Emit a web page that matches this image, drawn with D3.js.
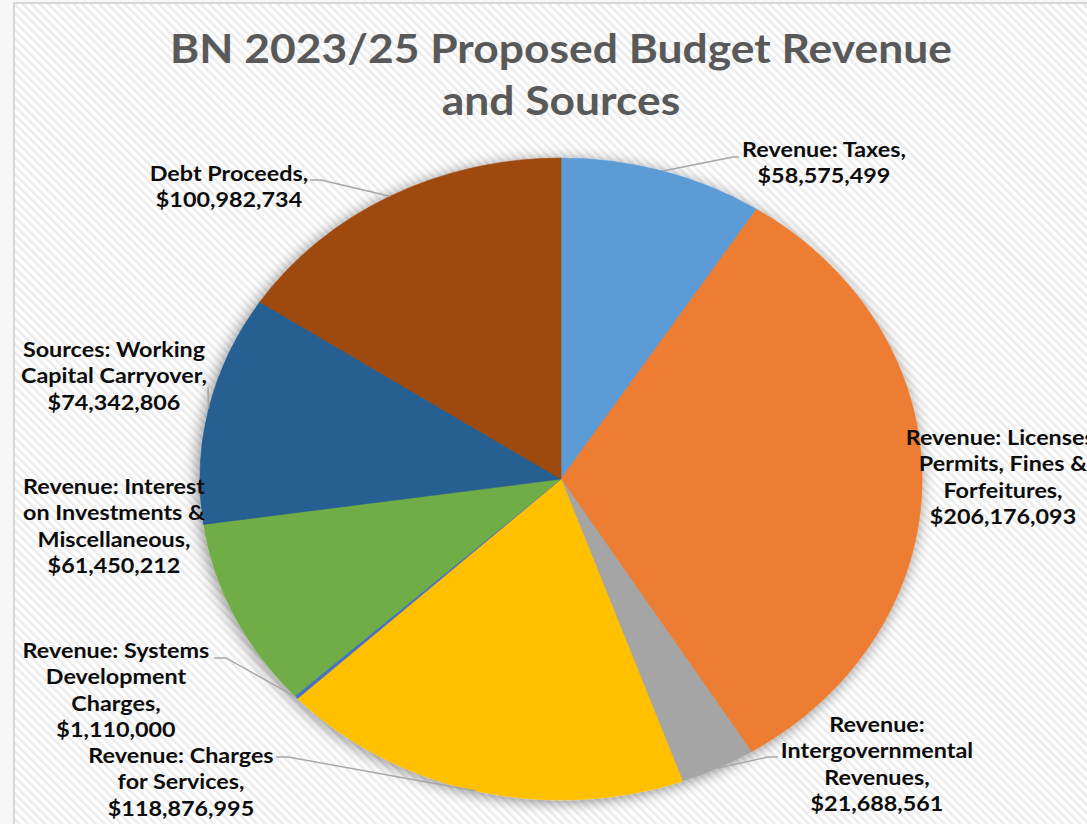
<!DOCTYPE html>
<html>
<head>
<meta charset="utf-8">
<script src="https://cdn.jsdelivr.net/npm/d3@7"></script>
<style>
  html, body { margin: 0; padding: 0; background: #f7f7f7; overflow: hidden; }
  text { font-family: Lato, "Open Sans", "Noto Sans", sans-serif; font-weight: 700; }
</style>
</head>
<body>
<svg id="chart" width="1087" height="824"></svg>
<script>
// Budget categories, in clockwise order starting at 12 o'clock
const categories = [
  "Revenue: Taxes",
  "Revenue: Licenses, Permits, Fines & Forfeitures",
  "Revenue: Intergovernmental Revenues",
  "Revenue: Charges for Services",
  "Revenue: Systems Development Charges",
  "Revenue: Interest on Investments & Miscellaneous",
  "Sources: Working Capital Carryover",
  "Debt Proceeds"
];
const values = [58575499, 206176093, 21688561, 118876995, 1110000, 61450212, 74342806, 100982734];

// Wrapped category text for each data label (the amount is appended as the last line)
const labelLines = [
  ["Revenue: Taxes,"],
  ["Revenue: Licenses,", "Permits, Fines &", "Forfeitures,"],
  ["Revenue:", "Intergovernmental", "Revenues,"],
  ["Revenue: Charges", "for Services,"],
  ["Revenue: Systems", "Development", "Charges,"],
  ["Revenue: Interest", "on Investments &", "Miscellaneous,"],
  ["Sources: Working", "Capital Carryover,"],
  ["Debt Proceeds,"]
];
const titleLines = ["BN 2023/25 Proposed Budget Revenue", "and Sources"];

const colors = ["#5b9bd5", "#ed7d31", "#a5a5a5", "#ffc000", "#4472c4", "#70ad47", "#255e91", "#9e480e"];

// ---- layout ----
const W = 1087, H = 824;
const SX = 1.125;                 // horizontal stretch of the whole chart
const CX = 561, CY = 479, R = 321;
const LINE_H = 26.3;

// label anchor: centre x, first baseline y; leader: [elbow x, elbow y, end x] or null
const labelLayout = [
  { x: 824,  y: 157, leader: [733, 157, 739] },
  { x: 1003, y: 445, leader: null },
  { x: 877,  y: 732, leader: [768, 757, 778] },
  { x: 181,  y: 763, leader: [288, 757, 276] },
  { x: 116,  y: 658, leader: [226, 658, 214] },
  { x: 114,  y: 494, leader: null },
  { x: 114,  y: 357, leader: [208, 387, 208] },
  { x: 229,  y: 181, leader: [321, 180, 310] }
];

const svg = d3.select("#chart");
const defs = svg.append("defs");

// diagonal hatching for the chart area
const pat = defs.append("pattern")
  .attr("id", "hatch")
  .attr("patternUnits", "userSpaceOnUse")
  .attr("width", 6).attr("height", 6)
  .attr("patternTransform", "rotate(-45)");
pat.append("rect").attr("width", 6).attr("height", 6).attr("fill", "#ffffff");
pat.append("rect").attr("width", 2.6).attr("height", 6).attr("fill", "#ececec");

// soft shadow round the pie
const f = defs.append("filter").attr("id", "shadow")
  .attr("x", "-20%").attr("y", "-20%").attr("width", "140%").attr("height", "140%");
f.append("feGaussianBlur").attr("in", "SourceAlpha").attr("stdDeviation", 7).attr("result", "b");
f.append("feOffset").attr("in", "b").attr("dx", -2).attr("dy", 2).attr("result", "o");
f.append("feComponentTransfer").attr("in", "o").attr("result", "s")
  .append("feFuncA").attr("type", "linear").attr("slope", 0.45);
const m = f.append("feMerge");
m.append("feMergeNode").attr("in", "s");
m.append("feMergeNode").attr("in", "SourceGraphic");

// chart area
svg.append("rect")
  .attr("x", 14).attr("y", 3).attr("width", W + 20).attr("height", H + 20)
  .attr("fill", "url(#hatch)")
  .attr("stroke", "#d6d6d6").attr("stroke-width", 2);

// everything below is drawn in a horizontally stretched frame
const g = svg.append("g").attr("transform", `scale(${SX},1)`);
const ix = x => x / SX;

// helper to size fonts by a measured reference width
function fitSize(str, targetW, weight) {
  const t = g.append("text").attr("font-size", 100).text(str);
  const w = t.node().getComputedTextLength();
  t.remove();
  return 100 * targetW / w;
}

// title
const titleSize = fitSize(titleLines[0], ix(782));
g.append("g").selectAll("text").data(titleLines).join("text")
  .attr("x", ix(561))
  .attr("y", (d, i) => 63 + i * 52)
  .attr("text-anchor", "middle")
  .attr("font-size", titleSize)
  .attr("fill", "#595959")
  .text(d => d);

// pie
const data = categories.map((c, i) => ({ category: c, value: values[i], color: colors[i], i }));
const pie = d3.pie().sort(null).value(d => d.value);
const arcs = pie(data);
const arc = d3.arc().innerRadius(0).outerRadius(R);

const pieG = g.append("g")
  .attr("transform", `translate(${ix(CX)},${CY})`)
  .attr("filter", "url(#shadow)");
pieG.selectAll("path").data(arcs).join("path")
  .attr("d", arc)
  .attr("fill", d => d.data.color)
  .attr("stroke", d => d.data.color)
  .attr("stroke-width", 0.6);

// leader lines from the slice edge to the label
const fmt = d3.format("$,");
const leaders = g.append("g");
arcs.forEach((a, i) => {
  const L = labelLayout[i];
  if (!L.leader) return;
  const mid = (a.startAngle + a.endAngle) / 2;
  const sx = ix(CX) + R * Math.sin(mid);
  const sy = CY - R * Math.cos(mid);
  const [ex, ey, endX] = L.leader;
  leaders.append("path")
    .attr("d", d3.line()([[sx, sy], [ix(ex), ey], [ix(endX), ey]]))
    .attr("fill", "none")
    .attr("stroke", "#a6a6a6")
    .attr("stroke-width", 1.4);
});

// data labels
const labelSize = fitSize("Revenue: Interest", ix(182));
const labels = g.append("g");
arcs.forEach((a, i) => {
  const L = labelLayout[i];
  const lines = labelLines[i].concat([fmt(a.data.value)]);
  labels.append("text")
    .attr("text-anchor", "middle")
    .attr("font-size", labelSize)
    .attr("fill", "#0d0d0d")
    .selectAll("tspan").data(lines).join("tspan")
      .attr("x", ix(L.x))
      .attr("y", (d, j) => L.y + j * LINE_H)
      .text(d => d);
});
</script>
</body>
</html>
